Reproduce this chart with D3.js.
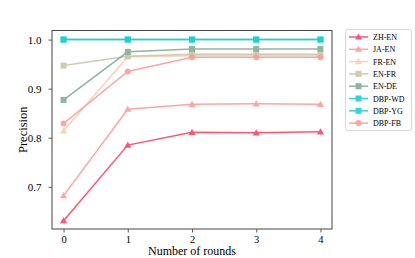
<!DOCTYPE html>
<html><head><meta charset="utf-8">
<script src="https://cdn.jsdelivr.net/npm/d3@7"></script>
<style>body{margin:0;background:#fff}svg{display:block}text{font-family:"Liberation Serif","Times New Roman",serif;fill:#000}</style>
</head><body><svg id="c" width="415" height="258"></svg>
<script>
const rounds = [0, 1, 2, 3, 4];
const xTicks = [0, 1, 2, 3, 4];
const yTicks = [0.7, 0.8, 0.9, 1.0];
const seriesNames = ["ZH-EN", "JA-EN", "FR-EN", "EN-FR", "EN-DE", "DBP-WD", "DBP-YG", "DBP-FB"];
const zhEn = [0.631, 0.785, 0.811, 0.810, 0.812];
const jaEn = [0.682, 0.858, 0.868, 0.869, 0.868];
const frEn = [0.814, 0.965, 0.967, 0.967, 0.967];
const enFr = [0.947, 0.966, 0.970, 0.970, 0.970];
const enDe = [0.877, 0.975, 0.981, 0.981, 0.981];
const dbpWd = [1.0, 1.0, 1.0, 1.0, 1.0];
const dbpYg = [1.0, 1.0, 1.0, 1.0, 1.0];
const dbpFb = [0.829, 0.935, 0.964, 0.964, 0.964];
const seriesValues = [zhEn, jaEn, frEn, enFr, enDe, dbpWd, dbpYg, dbpFb];
const colors = ["#fe4365", "#fc9d9a", "#f9cdad", "#c8c8a9", "#83af9b", "#1cd0d0", "#1cd0d0", "#fc9d9a"];
const markers = ["tri", "tri", "tri", "sq", "sq", "sq", "sq", "circ"];

const svg = d3.select("#c");
const L = 52, R = 332, T = 30.5, B = 229;
const x = d3.scaleLinear().domain([-0.18, 4.18]).range([L, R]);
const y = d3.scaleLinear().domain([0.614, 1.0185]).range([B, T]);

const ax = svg.append("g").attr("transform", `translate(0,${B})`)
  .call(d3.axisBottom(x).tickValues(xTicks).tickFormat(d3.format("d")).tickSize(3.5).tickPadding(3));
const ay = svg.append("g").attr("transform", `translate(${L},0)`)
  .call(d3.axisLeft(y).tickValues(yTicks).tickFormat(d3.format(".1f")).tickSize(3.5).tickPadding(7));
[ax, ay].forEach(g => {
  g.select(".domain").remove();
  g.selectAll(".tick line").attr("stroke", "#333").attr("stroke-width", 0.8);
  g.selectAll(".tick text").style("font-size", "11px").style("font-family", "Liberation Serif");
});
ax.selectAll(".tick text").style("font-size", "10.5px");
svg.append("rect").attr("x", L).attr("y", T).attr("width", R - L).attr("height", B - T)
  .attr("fill", "none").attr("stroke", "#444").attr("stroke-width", 1);

svg.append("text").attr("x", (L + R) / 2).attr("y", 255.4).attr("text-anchor", "middle")
  .style("font-size", "12px").text("Number of rounds");
svg.append("text").attr("transform", `translate(27,${(T + B) / 2}) rotate(-90)`).attr("text-anchor", "middle")
  .style("font-size", "12.5px").text("Precision");

const line = d3.line().x((d, i) => x(rounds[i])).y(d => y(d));
function marker(g, type, cx, cy, color) {
  if (type === "tri") g.append("path").attr("d", d3.symbol(d3.symbolTriangle, 22)()).attr("transform", `translate(${cx},${cy+0.5})`).attr("fill", color);
  else if (type === "sq") g.append("rect").attr("x", cx - 3).attr("y", cy - 3).attr("width", 6).attr("height", 6).attr("fill", color);
  else g.append("circle").attr("cx", cx).attr("cy", cy).attr("r", 3).attr("fill", color);
}
seriesValues.forEach((vals, s) => {
  const g = svg.append("g").attr("opacity", 0.9);
  g.append("path").datum(vals).attr("d", line).attr("fill", "none").attr("stroke", colors[s]).attr("stroke-width", 1.5);
  vals.forEach((v, i) => marker(g, markers[s], x(rounds[i]), y(v), colors[s]));
});

const lg = svg.append("g");
lg.append("rect").attr("x", 345.5).attr("y", 29.5).attr("width", 66).attr("height", 101).attr("rx", 2)
  .attr("fill", "#fff").attr("stroke", "#ccc").attr("stroke-width", 0.8);
seriesNames.forEach((n, s) => {
  const yy = 37 + s * 12.3;
  const g = lg.append("g").attr("opacity", 0.9);
  g.append("line").attr("x1", 349).attr("x2", 368).attr("y1", yy).attr("y2", yy).attr("stroke", colors[s]).attr("stroke-width", 1.5);
  marker(g, markers[s], 358.5, yy, colors[s]);
  lg.append("text").attr("x", 373).attr("y", yy + 3).style("font-size", "8px").text(n);
});
</script></body></html>
